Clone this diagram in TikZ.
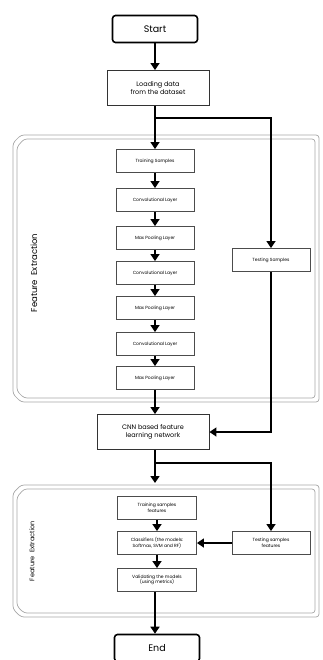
\documentclass[tikz,border=0pt]{standalone}
\usepackage{fontspec}
\setmainfont{Poppins}
\usepackage{tikz}
\usetikzlibrary{positioning,arrows.meta,calc}

\begin{document}
\begin{tikzpicture}[
    x=1pt, y=-1pt,
    term/.style={
        rectangle,
        rounded corners=3pt,
        draw,
        line width=1.6pt,
        minimum width=85pt,
        minimum height=27pt,
        font=\fontsize{9.5}{10}\selectfont
    },
    bigbox/.style={
        rectangle,
        draw=black!80,
        line width=0.9pt,
        align=center,
        font=\fontsize{6.5}{8}\selectfont
    },
    layer/.style={
        rectangle,
        draw=black!70,
        line width=0.9pt,
        minimum width=78pt,
        minimum height=23pt,
        align=center,
        inner sep=1pt,
        font=\fontsize{4.5}{5.5}\selectfont
    },
    panel/.style={draw=black!35, line width=0.7pt, rounded corners=3pt},
    flow/.style={line width=1.6pt, -{Triangle[width=9pt,length=7pt]}},
    >=Stealth
]
\useasboundingbox (0,0) rectangle (323,660);

% panels
\draw[panel] (21,135) -- (319,135) -- (319,402) -- (21,402) -- (13,394) -- (13,143) -- cycle;
\draw[panel] (24,139) -- (315,139) -- (315,398) -- (24,398) -- (17,391) -- (17,147) -- cycle;
\draw[panel] (21,485) -- (319,485) -- (319,617) -- (21,617) -- (13,609) -- (13,493) -- cycle;
\draw[panel] (24,489) -- (315,489) -- (315,613) -- (24,613) -- (17,606) -- (17,497) -- cycle;
\node[rotate=90, font=\fontsize{8.5}{9}\selectfont] (fe1) at (34,273) {Feature\ \ Extraction};
\node[rotate=90, font=\fontsize{6.5}{8}\selectfont] (fe2) at (32,551) {Feature\ \ Extraction};

% main chain
\node[term] (start) at (155,29) {Start};
\node[bigbox, minimum width=102pt, minimum height=35pt] (load) at (158,88) {Loading data\\from the dataset};
\node[layer] (train) at (155,161) {Training Samples};
\node[layer] (conv1) at (155,200) {Convolutional Layer};
\node[layer] (pool1) at (155,238) {Max Pooling Layer};
\node[layer] (conv2) at (155,273) {Convolutional Layer};
\node[layer] (pool2) at (155,308) {Max Pooling Layer};
\node[layer] (conv3) at (155,344) {Convolutional Layer};
\node[layer] (pool3) at (155,378) {Max Pooling Layer};
\node[layer] (test) at (271,260) {Testing Samples};
\node[bigbox, minimum width=112pt, minimum height=35pt] (cnn) at (153,432) {CNN based feature\\learning network};

\node[layer, minimum width=79pt] (trainf) at (157,508) {Training samples\\features};
\node[layer, minimum width=79pt] (clf) at (157,543) {Classifiers (the models:\\Softmax, SVM and RF)};
\node[layer, minimum width=79pt] (valid) at (157,580) {Validating the models\\(using metrics)};
\node[layer, minimum width=78pt] (testf) at (271,543) {Testing samples\\features};
\node[term] (end) at (157,648) {End};

\coordinate (b1) at (155,118);
\coordinate (b2) at (155,463);
\coordinate (p2) at (155,483);

% connectors
\draw[flow] (start) -- (start |- load.north);
\draw[flow] (load.south -| train) -- (train);
\draw[flow] (b1) -| (test);
\draw[flow] (train) -- (conv1);
\draw[flow] (conv1) -- (pool1);
\draw[flow] (pool1) -- (conv2);
\draw[flow] (conv2) -- (pool2);
\draw[flow] (pool2) -- (conv3);
\draw[flow] (conv3) -- (pool3);
\draw[flow] (pool3) -- (pool3 |- cnn.north);
\draw[flow] (test) |- (cnn);
\draw[flow] (cnn.south -| p2) -- (p2);
\draw[flow] (b2) -| (testf);
\draw[flow] (trainf) -- (clf);
\draw[flow] (clf) -- (valid);
\draw[flow] (testf) -- (clf);
\draw[flow] (valid.south -| p2) -- (p2 |- end.north);
\end{tikzpicture}
\end{document}
